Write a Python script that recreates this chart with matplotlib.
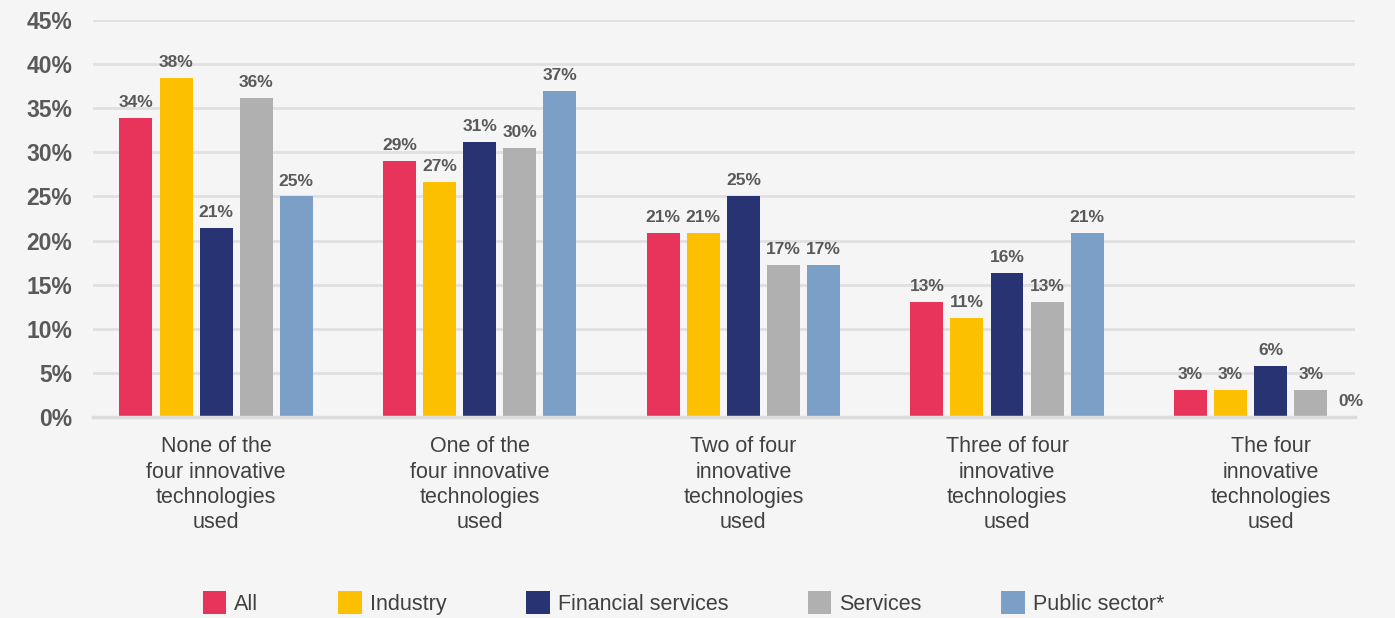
import numpy as np
import matplotlib
matplotlib.use("Agg")
import matplotlib.pyplot as plt
from matplotlib.patches import Patch

plt.rcParams["font.family"] = ["Liberation Sans", "DejaVu Sans"]

categories = [
    "None of the\nfour innovative\ntechnologies\nused",
    "One of the\nfour innovative\ntechnologies\nused",
    "Two of four\ninnovative\ntechnologies\nused",
    "Three of four\ninnovative\ntechnologies\nused",
    "The four\ninnovative\ntechnologies\nused",
]
series_names = ["All", "Industry", "Financial services", "Services", "Public sector*"]
all_vals = [33.9, 29.0, 20.9, 13.0, 3.1]
industry_vals = [38.4, 26.6, 20.9, 11.2, 3.1]
financial_vals = [21.4, 31.2, 25.1, 16.3, 5.8]
services_vals = [36.2, 30.5, 17.2, 13.0, 3.1]
public_vals = [25.0, 37.0, 17.2, 20.9, 0.0]
series_values = [all_vals, industry_vals, financial_vals, services_vals, public_vals]
yticks = [0, 5, 10, 15, 20, 25, 30, 35, 40, 45]

colors = ["#e8335a", "#fcc000", "#283374", "#b0b0b0", "#7b9fc6"]
bg = "#f5f5f5"

fig = plt.figure(figsize=(13.95, 6.18), dpi=100, facecolor=bg)
ax = fig.add_axes([93 / 1395, 1 - 417 / 618, (1355 - 93) / 1395, 397 / 618])
ax.set_facecolor(bg)

x = np.arange(len(categories))
step = 0.152
width = 0.125
for i, (name, vals, col) in enumerate(zip(series_names, series_values, colors)):
    pos = x + (i - 2) * step
    ax.bar(pos, vals, width=width, color=col, zorder=3)
    for px, v in zip(pos, vals):
        ax.text(px, v + 0.9, f"{round(v)}%", ha="center", va="bottom",
                fontsize=12.5, fontweight="bold", color="#595959", zorder=4)

ax.set_ylim(0, 45)
ax.set_xlim(-0.467, 4.32)
ax.set_yticks(yticks)
ax.set_yticklabels([f"{t}%" for t in yticks], fontsize=16.5, fontweight="bold", color="#595959")
ax.set_xticks(x)
ax.set_xticklabels(categories, fontsize=15.5, color="#404040", linespacing=1.27)
ax.tick_params(axis="both", length=0)
ax.tick_params(axis="x", pad=14)
ax.tick_params(axis="y", pad=15)

ax.grid(axis="y", color="#e0e0e0", linewidth=2, zorder=0)
for s in ["top", "right", "left"]:
    ax.spines[s].set_visible(False)
ax.spines["bottom"].set_color("#dcdcdc")
ax.spines["bottom"].set_linewidth(2.5)
ax.spines["bottom"].set_zorder(5)

handles = [Patch(facecolor=c, edgecolor="none") for c in colors]
leg = fig.legend(handles, series_names, loc="center", bbox_to_anchor=(0.49, 1 - 603 / 618),
                 ncol=5, frameon=False, fontsize=15.5, handlelength=1.1, handleheight=1.25,
                 handletextpad=0.37, columnspacing=3.7)
for t in leg.get_texts():
    t.set_color("#404040")

fig.savefig("out.png", dpi=100, facecolor=bg)
